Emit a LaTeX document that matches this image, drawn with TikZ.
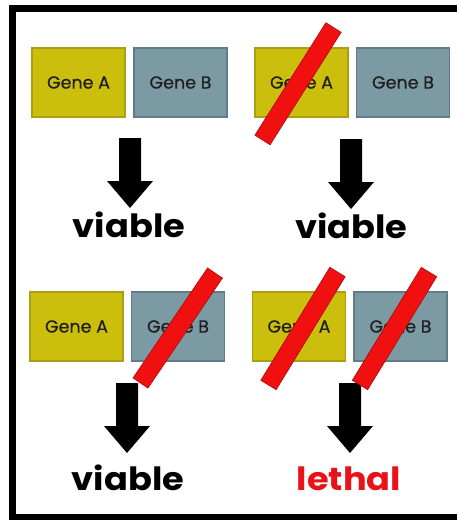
\documentclass[tikz,border=0pt]{standalone}
\usepackage{fontspec}
\setmainfont{Poppins}
\newfontfamily\genefont[FakeBold=0.7]{Poppins}
\usetikzlibrary{calc}
\definecolor{geneyel}{RGB}{204,190,12}
\definecolor{geneyelb}{RGB}{170,158,20}
\definecolor{geneblu}{RGB}{124,154,164}
\definecolor{genebluB}{RGB}{96,124,134}
\definecolor{barred}{RGB}{240,16,16}
\definecolor{barredB}{RGB}{170,10,10}
\definecolor{lethalred}{RGB}{232,18,24}
\newcommand\outtext[1]{\scalebox{1.1}[1]{#1}}
\tikzset{
  genebox/.style={minimum width=93pt, minimum height=69pt, inner sep=0pt, line width=1.2pt, font=\genefont\fontsize{17.5}{17.5}\selectfont, text=black!88},
  geneA/.style={genebox, fill=geneyel, draw=geneyelb},
  geneB/.style={genebox, fill=geneblu, draw=genebluB},
  outcome/.style={font=\fontsize{32}{32}\selectfont\bfseries, anchor=base, inner sep=0pt},
  blockarrow/.style={fill=black},
  redbar/.style={fill=barred, draw=barredB, line width=0.6pt},
  frame/.style={draw=black, line width=7pt}
}
\newcommand\downarrowat[3]{% name, x, ytop
  \coordinate (#1) at (#2,#3);
  \fill[blockarrow] ($(#1)+(-11,0)$) -- ($(#1)+(11,0)$) -- ($(#1)+(11,43)$) -- ($(#1)+(23,43)$)
    -- ($(#1)+(0,70)$) -- ($(#1)+(-23,43)$) -- ($(#1)+(-11,43)$) -- cycle;}
\newcommand\crossbar[3]{% name, top end, bottom end
  \coordinate (#1t) at #2; \coordinate (#1b) at #3;
  \filldraw[redbar] ($(#1t)!9pt!90:(#1b)$) -- ($(#1t)!9pt!-90:(#1b)$)
    -- ($(#1b)!9pt!90:(#1t)$) -- ($(#1b)!9pt!-90:(#1t)$) -- cycle;}
\begin{document}
\begin{tikzpicture}[x=1pt,y=-1pt]
\useasboundingbox (0,0) rectangle (457,520);
\fill[white] (0,0) rectangle (457,520);
\begin{scope}
\clip (0,0) rectangle (457,520);
\draw[frame] (12.5,8.5) rectangle (475,517.5);
\end{scope}
% top-left panel
\node[geneA] (a1) at (78.5,82.5) {Gene A};
\node[geneB] (b1) at (180.5,82.5) {Gene B};
\downarrowat{ar1}{130}{138}
\node[outcome] (o1) at (129,237) {\outtext{viable}};
% top-right panel
\node[geneA] (a2) at (301.5,82.5) {Gene A};
\node[geneB] (b2) at (403,82.5) {Gene B};
\downarrowat{ar2}{351}{139}
\node[outcome] (o2) at (351.5,238) {\outtext{viable}};
% bottom-left panel
\node[geneA] (a3) at (76.5,326.5) {Gene A};
\node[geneB] (b3) at (178,326.5) {Gene B};
\downarrowat{ar3}{127}{383}
\node[outcome] (o3) at (128,490) {\outtext{viable}};
% bottom-right panel
\node[geneA] (a4) at (299,326.5) {Gene A};
\node[geneB] (b4) at (400.5,326.5) {Gene B};
\downarrowat{ar4}{350}{383}
\node[outcome, text=lethalred] (o4) at (349,490) {\outtext{lethal}};
% red knockout bars
\crossbar{k1}{(333.5,27.5)}{(262.5,140)}
\crossbar{k2}{(215,273)}{(140.5,383)}
\crossbar{k3}{(337.5,272)}{(268.5,385)}
\crossbar{k4}{(429,272)}{(360,385)}
\end{tikzpicture}
\end{document}
